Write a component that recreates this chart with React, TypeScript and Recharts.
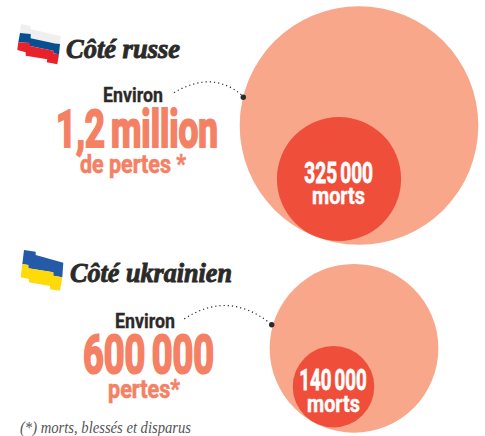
import React from 'react';
import { ScatterChart, Scatter, XAxis, YAxis, ZAxis } from 'recharts';

const W = 485;
const H = 436;

const sides = ['Côté russe', 'Côté ukrainien'];
const losses = [1200000, 600000];
const deaths = [325000, 140000];
const lossLabels = ['1,2 million', '600 000'];
const lossUnits = ['de pertes *', 'pertes*'];
const deathLabels = ['325 000', '140 000'];
const footnote = '(*) morts, blessés et disparus';

// bubble centres on the page
const lossX = [359, 354];
const lossY = [125.5, 348.3];
const deathX = [339, 333.5];
const deathY = [179, 386.7];

const lossData = losses.map((z, i) => ({ x: lossX[i], y: lossY[i], z, name: sides[i] }));
const deathData = deaths.map((z, i) => ({ x: deathX[i], y: deathY[i], z, name: sides[i] }));

const MAX_AREA = Math.PI * 119.3 * 119.3;

const NARROW = '"Liberation Sans Narrow", Roboto, sans-serif';
const SERIF = '"Liberation Serif", serif';
const SALMON = '#F58165';
const DARK = '#2B2A29';

type TxtProps = {
  x: number; y: number; w: number; size: number; fill: string; children: string;
  family?: string; italic?: boolean; weight?: number; bold?: number; wordGap?: number;
};

// stretches each text to the width it has in the print version
const Txt = ({ x, y, w, size, fill, children, family = NARROW, italic, weight = 700, bold = 0, wordGap = 0 }: TxtProps) => (
  <text
    x={x}
    y={y}
    fontFamily={family}
    fontSize={size}
    fontWeight={weight}
    fontStyle={italic ? 'italic' : 'normal'}
    fill={fill}
    stroke={bold ? fill : 'none'}
    strokeWidth={bold}
    wordSpacing={wordGap}
    textLength={w}
    lengthAdjust="spacingAndGlyphs"
  >
    {children}
  </text>
);

const Overlay = () => (
  <svg width={W} height={H} style={{ position: 'absolute', left: 0, top: 0 }}>
    {/* drapeau russe */}
    <polygon points="21,24 30.7,26 30.7,29.3 60.7,36 60,44 55,43.5 30.7,38.3 30.7,34 20,33" fill="#EFEFEF" />
    <polygon points="20,33 30.7,34 30.7,38.3 55,43.5 60,44 59,54.3 53.3,53.3 53.3,50.7 30,46 30,43 18.3,42.3" fill="#064F92" />
    <polygon points="18.3,42.3 30,43 30,46 53.3,50.7 53.3,53.3 59,54.3 57.3,64.3 46.7,62.3 47.3,59.3 25.7,55.7 25.7,52.3 17.3,50" fill="#E8212B" />
    {/* drapeau ukrainien */}
    <polygon points="24,250 35.7,251.7 35.7,255 63.3,262.7 62.3,277.3 53.3,275.7 53.3,272.3 28.3,268.3 28.3,265 22.3,264" fill="#245AA8" />
    <polygon points="22.3,264 28.3,265 28.3,268.3 53.3,272.3 53.3,275.7 62.3,277.3 60,290.7 50,289.3 50,286 29,282.3 29,279 20.7,277.3" fill="#FDDA08" />

    <Txt x={66} y={57.5} w={114} size={27} fill={DARK} family={SERIF} italic bold={0.9}>{sides[0]}</Txt>
    <Txt x={70} y={281.7} w={162} size={27} fill={DARK} family={SERIF} italic bold={0.9}>{sides[1]}</Txt>

    <Txt x={103} y={101.7} w={60} size={20} fill={DARK} bold={0.3}>Environ</Txt>
    <Txt x={56} y={146.7} w={162} size={52} fill={SALMON} bold={2.2} wordGap={-4}>{lossLabels[0]}</Txt>
    <Txt x={80} y={173} w={106} size={25} fill={SALMON} bold={0.6}>{lossUnits[0]}</Txt>

    <Txt x={115} y={327.7} w={60} size={20} fill={DARK} bold={0.3}>Environ</Txt>
    <Txt x={83} y={372.7} w={131} size={53} fill={SALMON} bold={2.2} wordGap={-4}>{lossLabels[1]}</Txt>
    <Txt x={108} y={398} w={72} size={25} fill={SALMON} bold={0.6}>{lossUnits[1]}</Txt>

    <Txt x={20} y={432.5} w={171} size={16} fill="#555" family={SERIF} italic weight={400}>{footnote}</Txt>

    <path d="M174 92.7 Q212 70 241.7 95" fill="none" stroke={DARK} strokeWidth={1.2} strokeDasharray="1.2 3" />
    <circle cx={243.3} cy={97.3} r={2.7} fill={DARK} />
    <path d="M184.3 319 Q228 290 270 323.3" fill="none" stroke={DARK} strokeWidth={1.2} strokeDasharray="1.2 3" />
    <circle cx={271.7} cy={324.7} r={2.7} fill={DARK} />

    <Txt x={304.3} y={182.7} w={68.7} size={30} fill="#fff" bold={0.8} wordGap={-2.5}>{deathLabels[0]}</Txt>
    <Txt x={312} y={204} w={53} size={23} fill="#fff" bold={0.4}>morts</Txt>
    <Txt x={299.3} y={390} w={67.4} size={30} fill="#fff" bold={0.8} wordGap={-2.5}>{deathLabels[1]}</Txt>
    <Txt x={307} y={411.7} w={53} size={23} fill="#fff" bold={0.4}>morts</Txt>
  </svg>
);

export default function App() {
  return (
    <div style={{ position: 'absolute', left: 0, top: 0, width: W, height: H, background: '#fff', overflow: 'hidden' }}>
      <ScatterChart width={W} height={H} margin={{ top: 0, right: 0, bottom: 0, left: 0 }}>
        <XAxis type="number" dataKey="x" domain={[0, W]} hide />
        <YAxis type="number" dataKey="y" domain={[0, H]} reversed hide />
        <ZAxis type="number" dataKey="z" domain={[0, 1200000]} range={[0, MAX_AREA]} />
        <Scatter data={lossData} fill="#F8A78B" isAnimationActive={false} />
        <Scatter data={deathData} fill="#EF4E3A" isAnimationActive={false} />
      </ScatterChart>
      <Overlay />
    </div>
  );
}
